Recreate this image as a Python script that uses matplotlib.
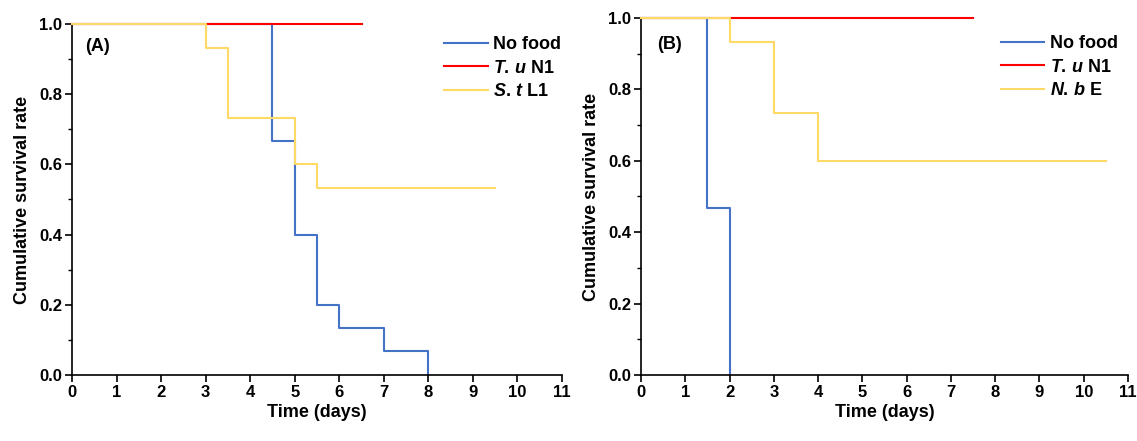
import numpy as np
import matplotlib
matplotlib.use("Agg")
import matplotlib.pyplot as plt
from matplotlib.ticker import MultipleLocator

plt.rcParams['font.family'] = 'Liberation Sans'
plt.rcParams['font.weight'] = 'bold'
plt.rcParams['mathtext.fontset'] = 'custom'
plt.rcParams['mathtext.it'] = 'Liberation Sans:italic:bold'
plt.rcParams['mathtext.rm'] = 'Liberation Sans:bold'

# panel A
a_nofood_t = [0, 4.5, 5, 5.5, 6, 7, 8]
a_nofood_s = [1.0, 0.667, 0.4, 0.2, 0.133, 0.067, 0.0]
a_tu_t = [0, 6.5]
a_tu_s = [1.0, 1.0]
a_st_t = [0, 3, 3.5, 5, 5.5, 9.5]
a_st_s = [1.0, 0.933, 0.733, 0.6, 0.533, 0.533]

# panel B
b_nofood_t = [0, 1.5, 2]
b_nofood_s = [1.0, 0.467, 0.0]
b_tu_t = [0, 7.5]
b_tu_s = [1.0, 1.0]
b_nb_t = [0, 2, 3, 4, 10.5]
b_nb_s = [1.0, 0.933, 0.733, 0.6, 0.6]

blue = '#4472C4'
red = '#FF0000'
yellow = '#FFD966'

fig = plt.figure(figsize=(11.37, 4.41), dpi=100)
ax1 = fig.add_axes([72/1137, 1-375/441, 490/1137, 351/441])
ax2 = fig.add_axes([641/1137, 1-375/441, 487/1137, 357/441])

panels = [
    (ax1, '(A)', (0.027, 0.935), (0.745, 0.985),
     [(a_nofood_t, a_nofood_s, blue, 'No food', 1),
      (a_tu_t, a_tu_s, red, r'$T.\,u$ N1', 2),
      (a_st_t, a_st_s, yellow, r'$S.\,t$ L1', 3)]),
    (ax2, '(B)', (0.033, 0.925), (0.724, 0.972),
     [(b_nofood_t, b_nofood_s, blue, 'No food', 1),
      (b_tu_t, b_tu_s, red, r'$T.\,u$ N1', 2),
      (b_nb_t, b_nb_s, yellow, r'$N.\,b$ E', 3)]),
]

for ax, tag, tag_pos, leg_pos, series in panels:
    for t, s, c, lab, z in series:
        ax.step(t, s, where='post', color=c, lw=1.5, label=lab, zorder=z, clip_on=False)
    ax.set_xlim(0, 11)
    ax.set_ylim(0, 1.0)
    ax.xaxis.set_major_locator(MultipleLocator(1))
    ax.yaxis.set_major_locator(MultipleLocator(0.2))
    ax.yaxis.set_minor_locator(MultipleLocator(0.1))
    ax.yaxis.set_major_formatter(matplotlib.ticker.FormatStrFormatter('%.1f'))
    ax.spines['top'].set_visible(False)
    ax.spines['right'].set_visible(False)
    ax.spines['left'].set_linewidth(1.2)
    ax.spines['bottom'].set_linewidth(1.2)
    ax.tick_params(axis='both', which='major', direction='out', length=5, width=1.2,
                   labelsize=12, pad=2)
    ax.tick_params(axis='y', which='minor', direction='out', length=3, width=1.0)
    ax.set_xlabel('Time (days)', fontsize=13, fontweight='bold', labelpad=3)
    ax.set_ylabel('Cumulative survival rate', fontsize=13, fontweight='bold', labelpad=6)
    ax.text(tag_pos[0], tag_pos[1], tag, transform=ax.transAxes, fontsize=13,
            fontweight='bold', va='center', ha='left')
    ax.legend(loc='upper left', bbox_to_anchor=leg_pos, frameon=False, fontsize=13,
              handlelength=2.4, handletextpad=0.3, labelspacing=0.35, borderaxespad=0)

fig.savefig('out.png', dpi=100)
